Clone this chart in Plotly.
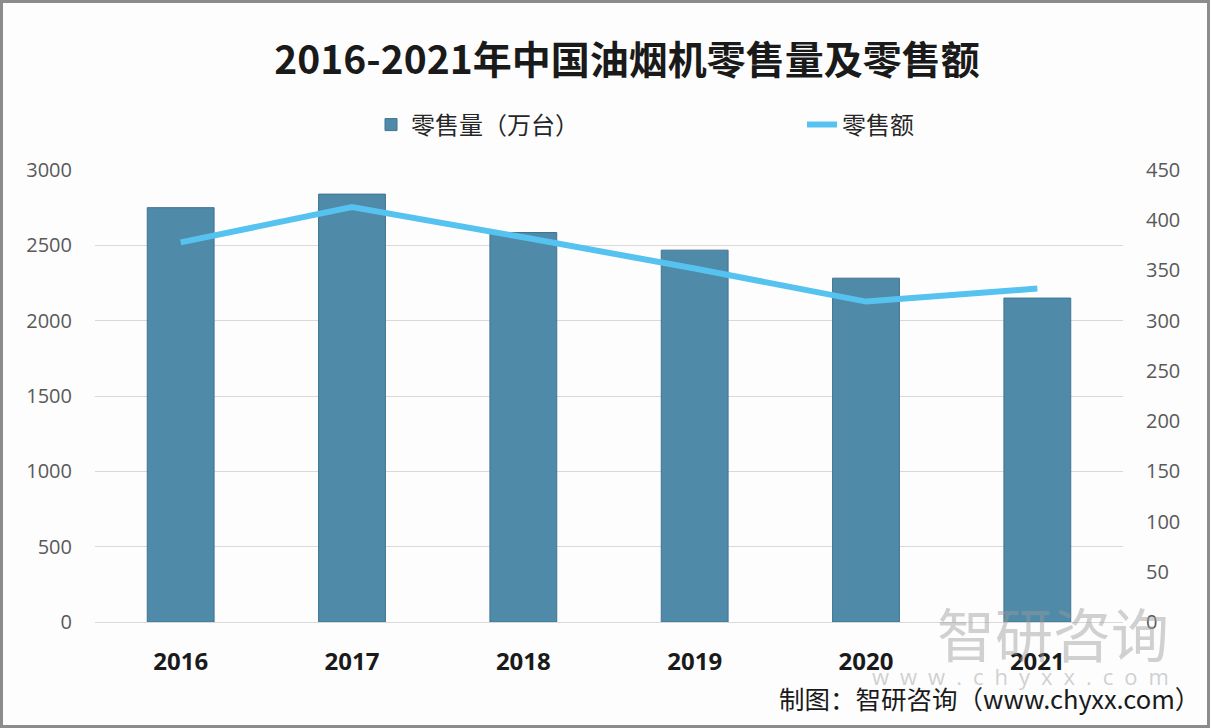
import plotly.graph_objects as go

years = ["2016", "2017", "2018", "2019", "2020", "2021"]
retail_volume = [2750, 2840, 2585, 2468, 2282, 2150]   # 万台
retail_sales = [378, 413, 383, 352, 319, 332]           # 零售额
left_ticks = [0, 500, 1000, 1500, 2000, 2500, 3000]
right_ticks = [0, 50, 100, 150, 200, 250, 300, 350, 400, 450]

W, H = 1210, 728
L, R, T, B = 95, 87, 170, 106
PW, PH = W - L - R, H - T - B

def px(x):
    return (x - L) / PW

def py(y):
    return (H - B - y) / PH

cjk = "Noto Sans CJK SC, Noto Sans, sans-serif"
legend_font = dict(family=cjk, size=24, color="#262626")

fig = go.Figure()
fig.add_trace(go.Bar(
    x=years, y=retail_volume, name="零售量（万台）",
    marker=dict(color="#4f8aa9", line=dict(color="#3f7393", width=1)),
    yaxis="y", legend="legend", showlegend=True,
))
fig.add_trace(go.Scatter(
    x=years, y=retail_sales, name="零售额", mode="lines",
    line=dict(color="#56c2ef", width=6),
    yaxis="y2", legend="legend2", showlegend=True,
))

fig.update_layout(
    autosize=False,
    showlegend=True,
    width=W, height=H,
    margin=dict(l=L, r=R, t=T, b=B, autoexpand=False),
    paper_bgcolor="#fdfdfe",
    plot_bgcolor="#fdfdfe",
    bargap=0.61,
    title=dict(
        text="<b>2016-2021年中国油烟机零售量及零售额</b>",
        x=627 / W, xanchor="center", y=1 - 60 / H, yanchor="middle",
        font=dict(family=cjk, size=39, color="#1a1a1a"),
    ),
    legend=dict(
        orientation="h", x=px(371), xanchor="left", y=py(125), yanchor="middle",
        font=legend_font, bgcolor="rgba(0,0,0,0)", visible=True,
    ),
    legend2=dict(
        orientation="h", x=px(802), xanchor="left", y=py(125), yanchor="middle",
        font=legend_font, bgcolor="rgba(0,0,0,0)", visible=True,
    ),
    xaxis=dict(
        tickfont=dict(family="Noto Sans, sans-serif", size=24, color="#1a1a1a"),
        tickvals=years, ticktext=[f"<b>{y}</b>" for y in years],
        ticks="outside", ticklen=18, tickcolor="rgba(0,0,0,0)",
        showline=True, linecolor="#d9d9d9", linewidth=1,
        showgrid=False,
    ),
    yaxis=dict(
        range=[0, 3000], tickvals=left_ticks,
        tickfont=dict(family="Open Sans, sans-serif", size=20, color="#595959"),
        ticks="outside", ticklen=18, tickcolor="rgba(0,0,0,0)",
        showgrid=True, gridcolor="#d9d9d9", gridwidth=1,
        zeroline=False, showline=False,
    ),
    yaxis2=dict(
        range=[0, 450], tickvals=right_ticks, overlaying="y", side="right",
        tickfont=dict(family="Open Sans, sans-serif", size=20, color="#595959"),
        ticks="outside", ticklen=18, tickcolor="rgba(0,0,0,0)",
        showgrid=False, zeroline=False, showline=False,
    ),
    shapes=[dict(
        type="rect", xref="paper", yref="paper",
        x0=px(1.5), x1=px(W - 1.5), y0=py(H - 1.5), y1=py(1.5),
        line=dict(color="#8c8c8c", width=3), fillcolor="rgba(0,0,0,0)",
        layer="above",
    )],
    annotations=[
        dict(text="智研咨询", xref="paper", yref="paper",
             x=px(1053), y=py(632), xanchor="center", yanchor="middle",
             showarrow=False, opacity=0.45,
             font=dict(family=cjk, size=58, color="#9a9a9a")),
        dict(text="\u2002".join("www.chyxx.com"), xref="paper", yref="paper",
             x=px(1020), y=py(676), xanchor="center", yanchor="middle",
             showarrow=False, opacity=0.45,
             font=dict(family="Open Sans, sans-serif", size=22, color="#9a9a9a")),
        dict(text="制图：智研咨询（www.chyxx.com）", xref="paper", yref="paper",
             x=px(777), y=py(697), xanchor="left", yanchor="middle",
             showarrow=False,
             font=dict(family=cjk, size=25.5, color="#1a1a1a")),
    ],
)

fig.write_html(
    "out.html",
    config={"responsive": False, "displayModeBar": False},
    post_script="document.body.style.margin='0';document.body.style.overflow='hidden';",
)
